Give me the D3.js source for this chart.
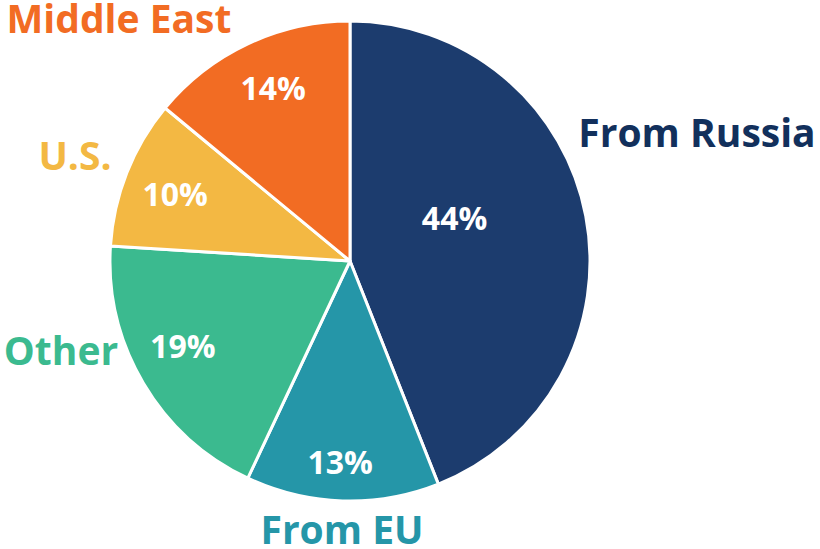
<!DOCTYPE html>
<html lang="en">
<head>
  <meta charset="UTF-8">
  <title>Gas imports pie</title>
  <script src="https://d3js.org/d3.v7.min.js"></script>
  <style>
    * { margin: 0; padding: 0; box-sizing: border-box; }
    body { width: 820px; height: 549px; background: #fff; font-family: "Open Sans", sans-serif; }
  </style>
</head>
<body>
  <div id="chart"></div>
  <script>
    // Data (clockwise from 12 o'clock)
    const categories = ['From Russia', 'From EU', 'Other', 'U.S.', 'Middle East'];
    const shares = [44, 13, 19, 10, 14];
    const colors = ['#1c3c6e', '#2596a8', '#3bba8f', '#f3b843', '#f26c23'];
    const labelColors = ['#12305c', '#2596a8', '#3bba8f', '#f3b843', '#f26c23'];

    const width = 820, height = 549;
    const cx = 350, cy = 261, radius = 240;

    // label placement (radius, angle nudge in degrees) for percentages
    const pctPlace = [{ r: 113, da: -11.5 }, { r: 202, da: 1 }, { r: 188, da: 3.4 }, { r: 187, da: -0.9 }, { r: 189, da: 1.2 }];
    // category name anchors
    const namePos = [[697, 147], [342, 544], [61, 365], [75, 170], [119, 33]];

    const svg = d3.select('#chart').append('svg')
      .attr('width', width).attr('height', height);

    const g = svg.append('g').attr('transform', `translate(${cx},${cy})`);

    const pie = d3.pie().sort(null).value(d => d);
    const arcs = pie(shares);
    const arc = d3.arc().innerRadius(0).outerRadius(radius);

    g.selectAll('path.slice')
      .data(arcs)
      .join('path')
      .attr('class', 'slice')
      .attr('d', arc)
      .attr('fill', (d, i) => colors[i])
      .attr('stroke', '#fff')
      .attr('stroke-width', 3)
      .attr('stroke-linejoin', 'round');

    // percentage labels
    g.selectAll('text.pct')
      .data(arcs)
      .join('text')
      .attr('class', 'pct')
      .attr('x', (d, i) => {
        const a = (d.startAngle + d.endAngle) / 2 + pctPlace[i].da * Math.PI / 180;
        return pctPlace[i].r * Math.sin(a);
      })
      .attr('y', (d, i) => {
        const a = (d.startAngle + d.endAngle) / 2 + pctPlace[i].da * Math.PI / 180;
        return -pctPlace[i].r * Math.cos(a);
      })
      .attr('dy', '0.36em')
      .attr('text-anchor', 'middle')
      .attr('fill', '#fff')
      .attr('font-size', 32)
      .attr('font-weight', 700)
      .text(d => d.data + '%');

    // category names
    svg.selectAll('text.name')
      .data(categories)
      .join('text')
      .attr('class', 'name')
      .attr('x', (d, i) => namePos[i][0])
      .attr('y', (d, i) => namePos[i][1])
      .attr('text-anchor', 'middle')
      .attr('fill', (d, i) => labelColors[i])
      .attr('font-size', 39)
      .attr('font-weight', 700)
      .text(d => d);
  </script>
</body>
</html>
